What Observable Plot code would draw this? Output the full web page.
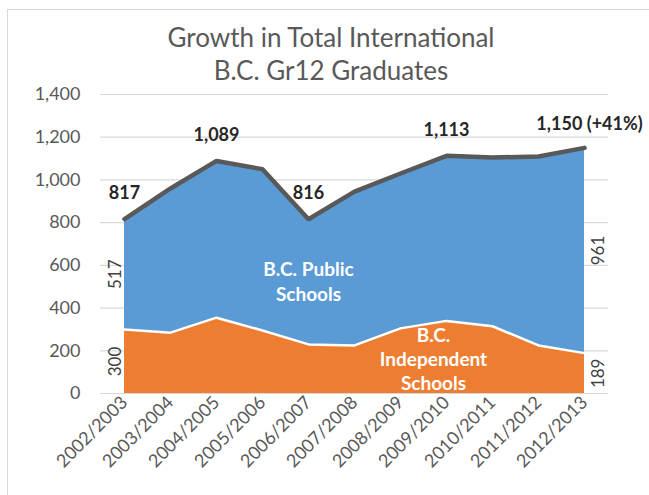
<!DOCTYPE html>
<html><head><meta charset="utf-8">
<script src="https://cdn.jsdelivr.net/npm/d3@7"></script>
<script src="https://cdn.jsdelivr.net/npm/@observablehq/plot@0.6"></script>
<style>
body{margin:0;background:#fff;font-family:Lato,sans-serif;}
#wrap{position:relative;width:649px;height:495px;overflow:hidden;background:#fff;}
#frame{position:absolute;left:7px;top:9px;width:700px;height:600px;border:1px solid #d9d9d9;box-sizing:border-box;}
#title{position:absolute;left:7px;top:21px;width:648px;text-align:center;color:#595959;font-size:26px;line-height:33px;}
#chart{position:absolute;left:0;top:80px;}
</style></head><body>
<div id="wrap"><div id="frame"></div><div id="title">Growth in Total International<br>B.C. Gr12 Graduates</div><div id="chart"></div></div>
<script>
const years = ["2002/2003","2003/2004","2004/2005","2005/2006","2006/2007","2007/2008","2008/2009","2009/2010","2010/2011","2011/2012","2012/2013"];
const independent = [300, 285, 355, 295, 230, 225, 305, 340, 315, 225, 189];
const publicSchools = [517, 675, 734, 755, 586, 720, 725, 773, 790, 885, 961];
const yTicks = [0, 200, 400, 600, 800, 1000, 1200, 1400];
const totalLabelYears = ["2002/2003","2004/2005","2006/2007","2009/2010"];
const totalLabelTexts = ["817","1,089","816","1,113"];
const lastTotalLabel = "1,150 (+41%)";

const rows = years.map((y, i) => ({year: y, ind: independent[i], pub: publicSchools[i], total: independent[i] + publicSchools[i]}));
const first = rows[0], last = rows[rows.length - 1];
const topLabels = totalLabelYears.map((y, i) => ({year: y, total: rows[years.indexOf(y)].total, text: totalLabelTexts[i]}));
const segLeft = [
  {year: first.year, y: first.ind / 2, text: String(first.ind)},
  {year: first.year, y: first.ind + first.pub / 2, text: String(first.pub)}
];
const segRight = [
  {year: last.year, y: last.ind / 2, text: String(last.ind)},
  {year: last.year, y: last.ind + last.pub / 2, text: String(last.pub)}
];

const chart = Plot.plot({
  width: 649, height: 415,
  marginTop: 14, marginBottom: 102, marginLeft: 100, marginRight: 41,
  x: {type: "point", domain: years, padding: 0.5},
  y: {domain: [0, 1400]},
  style: {fontFamily: "Lato, sans-serif", color: "#595959", background: "transparent"},
  marks: [
    Plot.ruleY(yTicks, {stroke: "#d9d9d9", strokeWidth: 1.2}),
    Plot.areaY(rows, {x: "year", y1: 0, y2: "ind", fill: "#ed7d31"}),
    Plot.areaY(rows, {x: "year", y1: "ind", y2: "total", fill: "#5b9bd5"}),
    Plot.lineY(rows, {x: "year", y: "ind", stroke: "white", strokeWidth: 2.5}),
    Plot.lineY(rows, {x: "year", y: "total", stroke: "#595959", strokeWidth: 4.5, strokeLinejoin: "miter"}),
    Plot.axisY({ticks: yTicks, tickFormat: d3.format(","), tickSize: 0, tickPadding: 20, fontSize: 18, label: null}),
    Plot.axisX({tickRotate: -45, tickSize: 0, tickPadding: 6, fontSize: 18, label: null}),
    Plot.text(topLabels, {x: "year", y: "total", text: "text", dy: -26, fontSize: 18, fontWeight: "bold", fill: "#262626"}),
    Plot.text([last], {x: "year", y: "total", text: () => lastTotalLabel, dy: -24, dx: 5, fontSize: 18, fontWeight: "bold", fill: "#262626"}),
    Plot.text(segLeft, {x: "year", y: "y", text: "text", rotate: -90, dx: -9, fontSize: 17, fill: "#404040"}),
    Plot.text(segRight, {x: "year", y: "y", text: "text", rotate: -90, dx: 14, fontSize: 17, fill: "#404040"}),
    Plot.text(["B.C. Public\nSchools"], {x: () => "2006/2007", y: () => 529, text: d => d, fill: "white", fontWeight: "bold", fontSize: 19, lineHeight: 1.32}),
    Plot.text(["B.C.\nIndependent\nSchools"], {x: () => "2009/2010", y: () => 164, dx: -13, text: d => d, fill: "white", fontWeight: "bold", fontSize: 19, lineHeight: 1.26})
  ]
});
document.getElementById("chart").appendChild(chart);
</script>
</body></html>
